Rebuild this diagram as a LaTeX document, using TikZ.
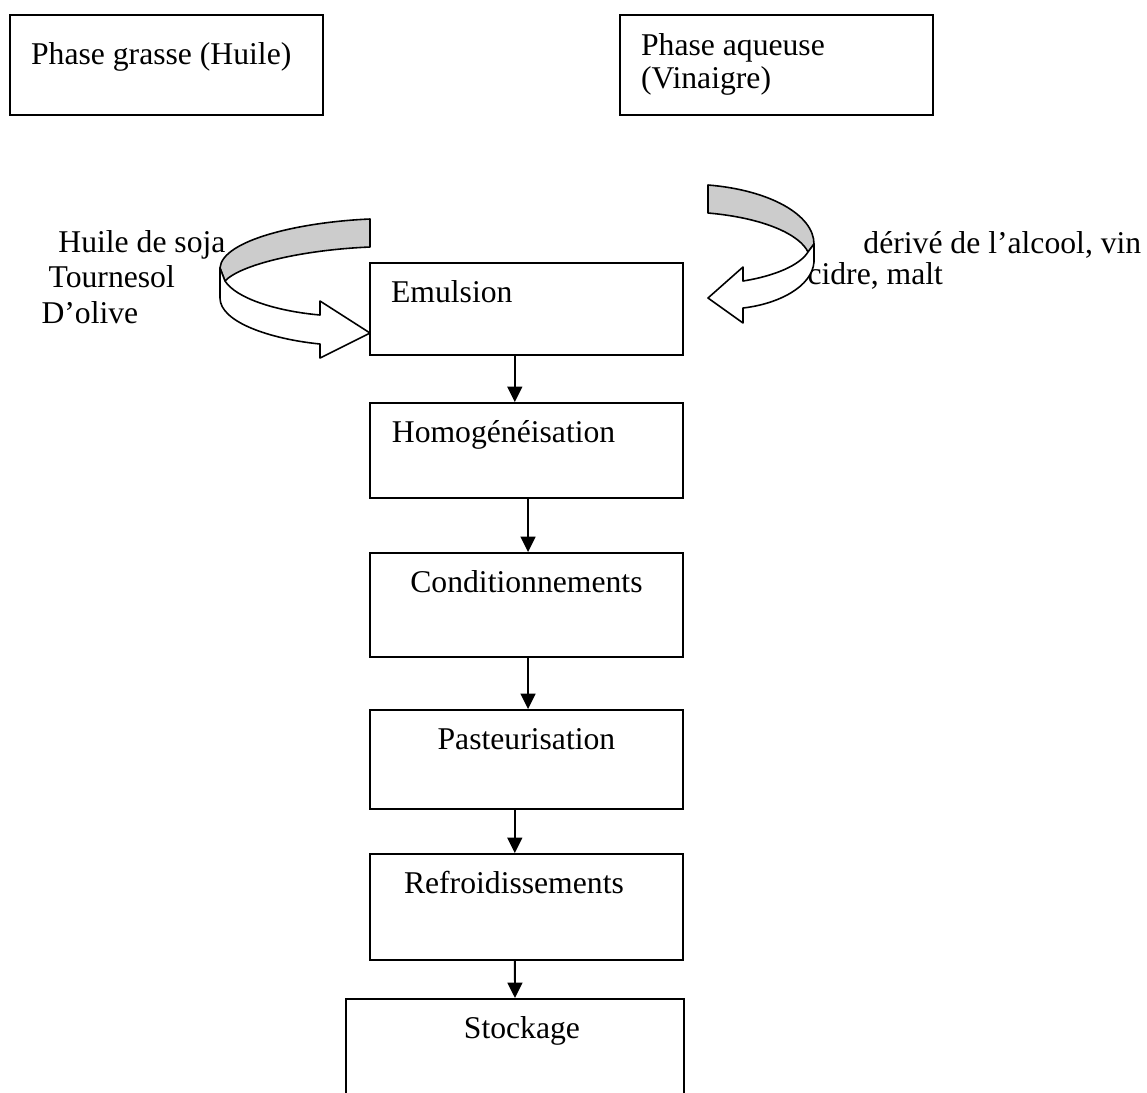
\documentclass[tikz,border=0pt]{standalone}
\usepackage{fontspec}
\setmainfont{Liberation Serif}
\usetikzlibrary{arrows.meta}

\begin{document}
\begin{tikzpicture}[x=0.379pt,y=-0.379pt,>={Triangle[width=5.6pt,length=5.8pt]},
every node/.style={font=\fontsize{12pt}{12.5pt}\selectfont},
phase/.style={draw, line width=0.75pt, anchor=north west, inner xsep=8pt, inner ysep=0pt,
  text width=102.6pt, align=flush left},
etape/.style={draw, line width=0.75pt, anchor=north west, inner xsep=8pt, inner ysep=0pt,
  text width=102.6pt, align=flush left, text height=14.8pt, text depth=#1},
fleche/.style={->, line width=0.7pt},
ruban/.style={draw, line width=0.6pt, line join=round}]
\useasboundingbox (0,0) rectangle (1147,1093);

% les deux phases
\node (grasse) [phase, text height=18.6pt, text depth=19.3pt] at (9,14) {Phase grasse (Huile)};
\node (aqueuse) [phase, text height=15.2pt, text depth=22.7pt] at (619,14) {Phase aqueuse\\(Vinaigre)};

% etapes
\node (emul) [etape=20.1pt] at (369,262) {Emulsion};
\node (homog) [etape=21.2pt] at (369,402) {\hspace*{0.3pt}Homogénéisation};
\node (cond) [etape=24.6pt, align=flush center] at (369,552) {Conditionnements};
\node (past) [etape=22.7pt, align=flush center] at (369,709) {Pasteurisation};
\node (refr) [etape=25.4pt] at (369,853) {\hspace*{4.9pt}Refroidissements};
\node (stock) [etape=27.7pt, text width=112.1pt, align=flush center] at (345,998) {\hspace*{5.3pt}Stockage};

\node (huiles) [anchor=base west, inner sep=0pt, text width=90pt, align=flush left,
  font=\fontsize{12pt}{13.6pt}\selectfont] at (41,252)
  {\hspace*{6.4pt}Huile de soja\\\hspace*{2.7pt}Tournesol\\D’olive};
\node (vinaigres) [anchor=base west, inner sep=0pt, text width=140pt, align=flush left,
  font=\fontsize{12pt}{12.1pt}\selectfont] at (807,253)
  {\hspace*{21.2pt}dérivé de l’alcool, vin\\cidre, malt};

\draw[fleche] ([xshift=-4.4pt]emul.south) -- ([xshift=-4.4pt]homog.north);
\draw[fleche] ([xshift=0.6pt]homog.south) -- ([xshift=0.6pt]cond.north);
\draw[fleche] ([xshift=0.6pt]cond.south) -- ([xshift=0.6pt]past.north);
\draw[fleche] ([xshift=-4.4pt]past.south) -- ([xshift=-4.4pt]refr.north);
\draw[fleche] ([xshift=-4.4pt]refr.south) -- (stock.north);

% fleche courbe gauche
\path[ruban, fill=gray!40] (370,219) .. controls (300,222) and (222,240) .. (220,268)
  -- (225,281) .. controls (240,265) and (300,250) .. (370,247) -- cycle;
\path[ruban, fill=white] (220,268) -- (220,298) .. controls (220,322) and (270,339) .. (320,344)
  -- (320,358) -- (370,333) -- (320,301) -- (320,315)
  .. controls (275,311) and (236,298) .. (225,281) -- cycle;

% fleche courbe droite
\path[ruban, fill=gray!40] (708,185) .. controls (770,190) and (814,215) .. (814,244)
  -- (808,252) .. controls (800,235) and (765,218) .. (708,213) -- cycle;
\path[ruban, fill=white] (814,244) -- (814,262) .. controls (812,287) and (778,304) .. (743,308)
  -- (743,323) -- (708,298) -- (743,267) -- (743,281)
  .. controls (775,276) and (800,265) .. (808,252) -- cycle;
\end{tikzpicture}
\end{document}
